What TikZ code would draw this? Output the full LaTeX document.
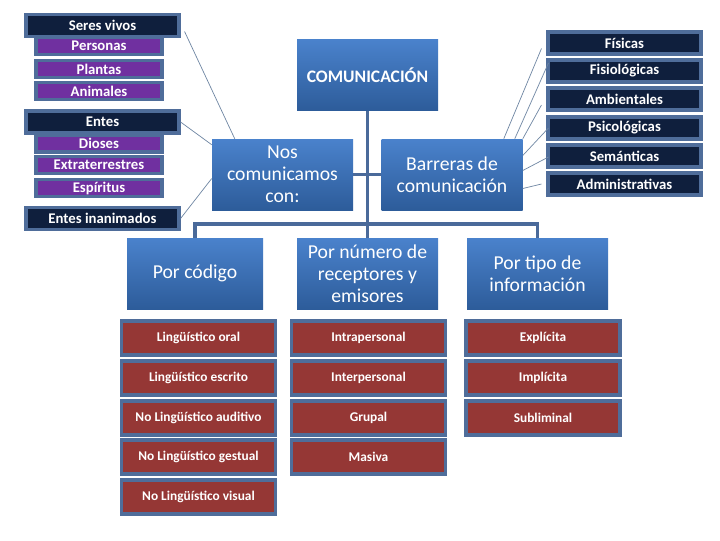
\documentclass[tikz,border=0pt]{standalone}
\usepackage{fontspec}
\setmainfont{Carlito}
\usetikzlibrary{calc}

\definecolor{navyfill}{HTML}{0F1F3D}
\definecolor{violetfill}{HTML}{7030A0}
\definecolor{redfill}{HTML}{953735}
\definecolor{edgeblue}{HTML}{4F6D9A}
\definecolor{treeblue}{HTML}{4A6A9A}
\definecolor{thingray}{HTML}{6F86A3}
\definecolor{blueTop}{HTML}{4A82CC}
\definecolor{blueBot}{HTML}{2D5C9A}

\newcommand\pu{0.025cm}

\tikzset{
  darkbox/.style={fill=navyfill, draw=edgeblue, line width=2.2pt, text=white,
    font=\bfseries\fontsize{10.5}{12}\selectfont, inner sep=0pt,
    minimum width=153*\pu, minimum height=22*\pu},
  violetbox/.style={fill=violetfill, draw=edgeblue, line width=2.2pt, text=white,
    font=\bfseries\fontsize{10.5}{12}\selectfont, inner sep=0pt,
    minimum width=126*\pu, minimum height=17*\pu},
  bluebox/.style={top color=blueTop, bottom color=blueBot, text=white,
    font=\fontsize{14}{15.5}\selectfont, align=center, inner sep=0pt,
    minimum width=141*\pu, minimum height=71*\pu},
  redbox/.style={fill=redfill, draw=edgeblue, line width=2.4pt, text=white,
    font=\bfseries\fontsize{9.5}{11}\selectfont, inner sep=0pt,
    minimum width=154*\pu, minimum height=34*\pu},
  tree/.style={draw=treeblue, line width=2.2pt},
  thin/.style={draw=thingray, line width=0.5pt},
}

\begin{document}
\begin{tikzpicture}[x=0.025cm, y=-0.025cm]
  \useasboundingbox[fill=white] (0,0) rectangle (720,540);

  % central tree
  \node[bluebox, font=\bfseries\fontsize{12.5}{14}\selectfont] (comunicacion) at (367.5,75) {COMUNICACIÓN};
  \node[bluebox] (nos) at (282.5,174.5) {Nos\\comunicamos\\con:};
  \node[bluebox] (barreras) at (452,174.5) {Barreras de\\comunicación};
  \node[bluebox, minimum width=136*\pu] (porcodigo) at (195,273.5) {Por código};
  \node[bluebox] (pornumero) at (367.5,273.5) {Por número de\\receptores y\\emisores};
  \node[bluebox] (portipo) at (537.5,273.5) {Por tipo de\\información};

  \coordinate (bus) at (367.5,224);
  \draw[tree] (comunicacion.south) -- (bus);
  \draw[tree] (nos.east) -- (barreras.west);
  \draw[tree] (bus) -| (porcodigo.north);
  \draw[tree] (bus) -- (pornumero.north);
  \draw[tree] (bus) -| (portipo.north);

  % left column
  \node[violetbox] (personas) at (99,46) {Personas};
  \node[darkbox] (servivos) at (102.5,25.5) {Seres vivos};
  \node[violetbox] (plantas) at (99,69) {Plantas};
  \node[violetbox] (animales) at (99,91) {Animales};
  \node[violetbox] (dioses) at (99,143.5) {Dioses};
  \node[darkbox] (entes) at (102.5,122) {Entes};
  \node[violetbox] (extraterrestres) at (99,165) {Extraterrestres};
  \node[violetbox] (espiritus) at (99,188) {Espíritus};
  \node[darkbox] (inanimados) at (102.5,218.5) {Entes inanimados};

  \draw[thin] ($(servivos.east)+(4,6)$) -- ($(nos.north west)+(23,0)$);
  \draw[thin] (entes.east) -- ($(nos.north west)+(0,6)$);
  \draw[thin] (inanimados.east) -- ($(nos.west)+(0,4)$);

  % barreras
  \node[darkbox] (fisicas) at (624.5,43) {Físicas};
  \node[darkbox] (fisiologicas) at (624.5,71) {Fisiológicas};
  \node[darkbox] (ambientales) at (624.5,99) {Ambientales};
  \node[darkbox] (psicologicas) at (624.5,128) {Psicológicas};
  \node[darkbox] (semanticas) at (624.5,156) {Semánticas};
  \node[darkbox] (administrativas) at (624.5,184) {Administrativas};

  \draw[thin] ($(barreras.north east)+(-19,0)$) -- ($(fisicas.south west)+(-5,-7)$);
  \draw[thin] ($(barreras.north east)+(-8,0)$) -- ($(fisiologicas.west)+(2,-8)$);
  \draw[thin] (barreras.north east) -- ($(ambientales.west)+(-5,6)$);
  \draw[thin] ($(barreras.east)+(0,-19)$) -- ($(psicologicas.west)+(2,0)$);
  \draw[thin] ($(barreras.east)+(0,-4)$) -- ($(semanticas.west)+(2,1)$);
  \draw[thin] ($(barreras.east)+(0,14)$) -- ($(administrativas.west)+(-5,0)$);

  % tipos
  \node[redbox] (oral) at (198.5,338) {Lingüístico oral};
  \node[redbox] (escrito) at (198.5,378) {Lingüístico escrito};
  \node[redbox] (auditivo) at (198.5,418) {No Lingüístico auditivo};
  \node[redbox] (gestual) at (198.5,457) {No Lingüístico gestual};
  \node[redbox] (visual) at (198.5,497) {No Lingüístico visual};

  \node[redbox] (intra) at (368.5,338) {Intrapersonal};
  \node[redbox] (inter) at (368.5,378) {Interpersonal};
  \node[redbox] (grupal) at (368.5,418) {Grupal};
  \node[redbox] (masiva) at (368.5,457) {Masiva};

  \node[redbox] (explicita) at (543,338) {Explícita};
  \node[redbox] (implicita) at (543,378) {Implícita};
  \node[redbox] (subliminal) at (543,418) {Subliminal};
\end{tikzpicture}
\end{document}
